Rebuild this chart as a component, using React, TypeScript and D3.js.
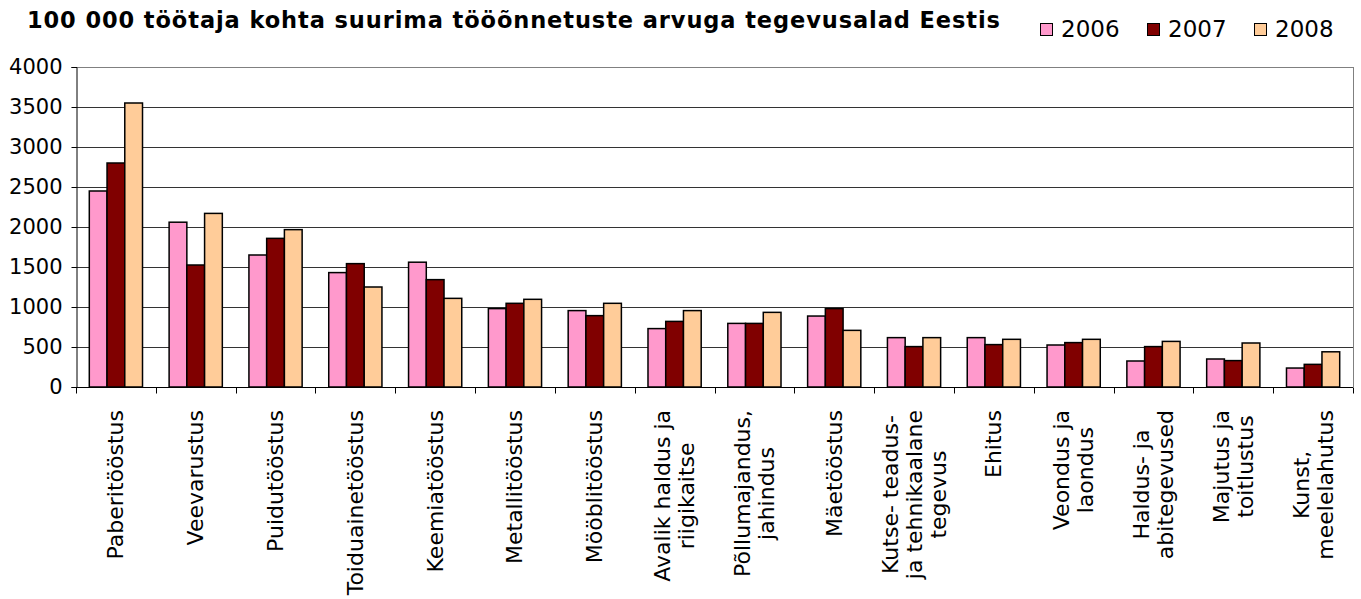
import React, { useEffect, useRef } from 'react';
import * as d3 from 'd3';

const title = '100 000 töötaja kohta suurima tööõnnetuste arvuga tegevusalad Eestis';
const years = ['2006', '2007', '2008'];
const categories: string[][] = [
  ['Paberitööstus'],
  ['Veevarustus'],
  ['Puidutööstus'],
  ['Toiduainetööstus'],
  ['Keemiatööstus'],
  ['Metallitööstus'],
  ['Mööblitööstus'],
  ['Avalik haldus ja', 'riigikaitse'],
  ['Põllumajandus,', 'jahindus'],
  ['Mäetööstus'],
  ['Kutse- teadus-', 'ja tehnikaalane', 'tegevus'],
  ['Ehitus'],
  ['Veondus ja', 'laondus'],
  ['Haldus- ja', 'abitegevused'],
  ['Majutus ja', 'toitlustus'],
  ['Kunst,', 'meelelahutus'],
];
const v2006 = [2450, 2060, 1650, 1430, 1560, 980, 955, 730, 795, 887, 617, 617, 525, 325, 350, 237];
const v2007 = [2800, 1525, 1858, 1542, 1342, 1046, 892, 820, 795, 980, 505, 530, 555, 505, 330, 283];
const v2008 = [3550, 2170, 1967, 1250, 1108, 1096, 1046, 955, 933, 708, 617, 596, 596, 570, 550, 440];
const yTicks = [0, 500, 1000, 1500, 2000, 2500, 3000, 3500, 4000];

const colors = ['#FF99CC', '#800000', '#FFCC99'];
const FONT = '"DejaVu Sans", Verdana, sans-serif';

export default function App() {
  const svgRef = useRef<SVGSVGElement>(null);

  useEffect(() => {
    const W = 1361;
    const H = 599;
    const m = { top: 67, left: 76, right: 8, bottom: 212 };
    const series = [v2006, v2007, v2008];

    const svg = d3.select(svgRef.current);
    svg.selectAll('*').remove();

    const x0 = d3.scaleBand<number>()
      .domain(d3.range(categories.length))
      .range([m.left, W - m.right])
      .padding(0);
    const bw = x0.bandwidth() / 4.5;
    const x1 = d3.scaleBand<string>()
      .domain(years)
      .range([(x0.bandwidth() - 3 * bw) / 2, (x0.bandwidth() + 3 * bw) / 2]);

    const y = d3.scaleLinear().domain([0, 4000]).range([H - m.bottom, m.top]);

    // ruudustik
    svg.append('g')
      .selectAll('line')
      .data(yTicks.filter(t => t > 0))
      .join('line')
      .attr('x1', m.left)
      .attr('x2', W - m.right)
      .attr('y1', d => Math.round(y(d)) + 0.5)
      .attr('y2', d => Math.round(y(d)) + 0.5)
      .attr('stroke', d => (d === 4000 ? '#808080' : '#333'))
      .attr('stroke-width', 1);

    // parem serv
    svg.append('line')
      .attr('x1', W - m.right + 0.5)
      .attr('x2', W - m.right + 0.5)
      .attr('y1', m.top)
      .attr('y2', y(0))
      .attr('stroke', '#808080');

    // tulbad
    const g = svg.append('g');
    series.forEach((vals, si) => {
      g.append('g')
        .selectAll('rect')
        .data(vals)
        .join('rect')
        .attr('x', (_, i) => (x0(i) as number) + (x1(years[si]) as number))
        .attr('y', d => y(d))
        .attr('width', x1.bandwidth())
        .attr('height', d => y(0) - y(d))
        .attr('fill', colors[si])
        .attr('stroke', '#000')
        .attr('stroke-width', 1.5);
    });

    // y-telg
    const yAxis = d3.axisLeft(y)
      .tickValues(yTicks)
      .tickFormat(d3.format('d'))
      .tickSize(5)
      .tickPadding(9);
    const ya = svg.append('g')
      .attr('transform', `translate(${m.left + 0.5},0)`)
      .call(yAxis);
    ya.select('.domain').attr('stroke', '#000');
    ya.selectAll('.tick line').attr('stroke', '#000');
    ya.selectAll('.tick text')
      .attr('font-family', FONT)
      .attr('font-size', 21)
      .attr('fill', '#000');

    // x-telg
    const base = Math.round(y(0)) + 0.5;
    svg.append('line')
      .attr('x1', m.left)
      .attr('x2', W - m.right)
      .attr('y1', base)
      .attr('y2', base)
      .attr('stroke', '#000');
    svg.append('g')
      .selectAll('line')
      .data(d3.range(categories.length + 1))
      .join('line')
      .attr('x1', i => Math.round(m.left + i * x0.step()) + 0.5)
      .attr('x2', i => Math.round(m.left + i * x0.step()) + 0.5)
      .attr('y1', base)
      .attr('y2', base + 6)
      .attr('stroke', '#000');

    // kategooriate sildid (pööratud)
    const labelSize = 22;
    const ctx = document.createElement('canvas').getContext('2d')!;
    ctx.font = `${labelSize}px "DejaVu Sans"`;
    const lineGap = 24;
    const labelTop = 410;
    categories.forEach((lines, i) => {
      const maxLen = d3.max(lines, l => ctx.measureText(l).width) as number;
      const cx = (x0(i) as number) + x0.bandwidth() / 2;
      const cy = labelTop + maxLen / 2;
      lines.forEach((ln, li) => {
        const dx = (li - (lines.length - 1) / 2) * lineGap;
        svg.append('text')
          .attr('transform', `translate(${cx + dx},${cy}) rotate(-90)`)
          .attr('text-anchor', 'middle')
          .attr('dominant-baseline', 'central')
          .attr('font-family', FONT)
          .attr('font-size', labelSize)
          .attr('fill', '#000')
          .text(ln);
      });
    });

    // pealkiri
    svg.append('text')
      .attr('x', 27)
      .attr('y', 28)
      .attr('font-family', FONT)
      .attr('font-weight', 'bold')
      .attr('font-size', 22.5)
      .attr('textLength', 973)
      .attr('lengthAdjust', 'spacing')
      .attr('fill', '#000')
      .text(title);

    // legend
    const legendX = [1040, 1147, 1254];
    years.forEach((yr, i) => {
      svg.append('rect')
        .attr('x', legendX[i] + 0.5)
        .attr('y', 23.5)
        .attr('width', 12)
        .attr('height', 12)
        .attr('fill', colors[i])
        .attr('stroke', '#000');
      svg.append('text')
        .attr('x', legendX[i] + 21)
        .attr('y', 37)
        .attr('font-family', FONT)
        .attr('font-size', 23)
        .attr('fill', '#000')
        .text(yr);
    });
  }, []);

  return (
    <svg
      ref={svgRef}
      width={1361}
      height={599}
      style={{ position: 'absolute', left: 0, top: 0, background: '#fff' }}
    />
  );
}
